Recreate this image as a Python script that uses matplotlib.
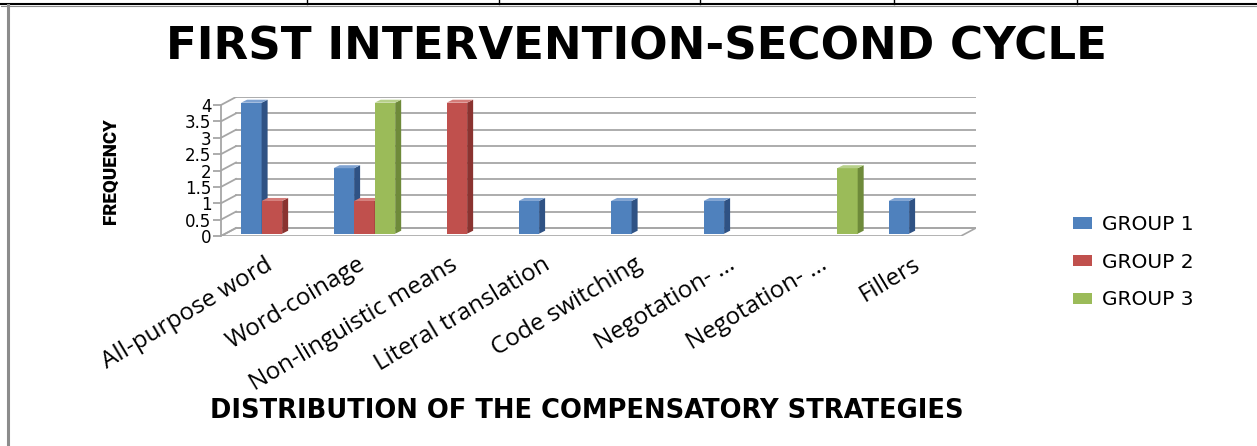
import numpy as np
import matplotlib
matplotlib.use("Agg")
import matplotlib.pyplot as plt
from matplotlib.lines import Line2D

# データ
categories = ["All-purpose word", "Word-coinage", "Non-linguistic means",
              "Literal translation", "Code switching", "Negotation- \u2026",
              "Negotation- \u2026", "Fillers"]
group1 = [4, 2, 0, 1, 1, 1, 0, 1]
group2 = [1, 1, 4, 0, 0, 0, 0, 0]
group3 = [0, 4, 0, 0, 0, 0, 2, 0]
series_names = ["GROUP 1", "GROUP 2", "GROUP 3"]
yticks = [0, 0.5, 1, 1.5, 2, 2.5, 3, 3.5, 4]
ytick_labels = ["0", "0.5", "1", "1.5", "2", "2.5", "3", "3.5", "4"]

# 色 (front, side, top)
front = ["#4F81BD", "#C0504D", "#9BBB59"]
side = ["#2F5284", "#8A3330", "#6E8A3A"]
top = ["#7FA3D2", "#D47C79", "#B7D08A"]

# 配置 (pixel)
W, H = 1257, 446
X0PX, X1PX = 221, 961
Y0PX, Y4PX = 236, 105
DX, DY = 15, 8

ppx = (X1PX - X0PX) / len(categories)
ppy = (Y0PX - Y4PX) / 4
dxd, dyd = DX / ppx, DY / ppy

fig = plt.figure(figsize=(W / 100, H / 100), dpi=100)
ax = fig.add_axes([X0PX / W, (H - Y0PX) / H,
                   (X1PX + DX - X0PX) / W, (Y0PX - Y4PX + DY) / H])
ax.set_xlim(-0.5, len(categories) - 0.5 + dxd)
ax.set_ylim(0, 4 + dyd)
ax.patch.set_alpha(0)

xa, xb = -0.5, len(categories) - 0.5
grid_c = "#a6a6a6"

# 床
ax.fill([xa, xb, xb + dxd, xa + dxd], [0, 0, dyd, dyd], facecolor="white",
        edgecolor=grid_c, lw=1.2, zorder=1)
# グリッド線 (奥の壁と左の壁)
for v in yticks:
    ax.plot([xa + dxd, xb + dxd], [v + dyd, v + dyd], color=grid_c, lw=1.3, zorder=1)
    ax.plot([xa, xa + dxd], [v, v + dyd], color=grid_c, lw=1.3, zorder=1)

# 棒グラフ (3D風)
bw = 0.222
bdx, bdy = 6 / ppx, 3 / ppy
shift, base = 0.05, 0.07
x = np.arange(len(categories))
handles = []
for i, vals in enumerate([group1, group2, group3]):
    left = x + shift + (i - 1.5) * bw
    h = np.array(vals, dtype=float)
    bars = ax.bar(left, np.where(h > 0, h, 0), bw, bottom=base, align="edge",
                  color=front[i], zorder=2 + i, label=series_names[i])
    handles.append(bars)
    for l, v in zip(left, h):
        if v <= 0:
            continue
        r, t = l + bw, base + v
        ax.fill([r, r + bdx, r + bdx, r], [base, base + bdy, t + bdy, t],
                color=side[i], zorder=2 + i, lw=0)
        ax.fill([l, r, r + bdx, l + bdx], [t, t, t + bdy, t + bdy],
                color=top[i], zorder=2 + i, lw=0)

for s in ["top", "right", "bottom"]:
    ax.spines[s].set_visible(False)
ax.spines["left"].set_bounds(0, 4)
ax.spines["left"].set_color(grid_c)
ax.spines["left"].set_linewidth(1.3)
ax.set_yticks(yticks, ytick_labels, fontsize=12, family="DejaVu Sans")
ax.tick_params(axis="y", length=6, width=1.3, color=grid_c, pad=1)
ax.set_xticks(x - 0.03, categories, rotation=31, ha="right",
              rotation_mode="anchor", fontsize=17.5, family=["Open Sans", "DejaVu Sans"])
ax.tick_params(axis="x", length=0, pad=12)

# タイトル・軸ラベル
fig.text(636 / W, 1 - 47.5 / H, "FIRST INTERVENTION-SECOND CYCLE", ha="center",
         va="center", fontsize=32.5, fontweight="bold", family="DejaVu Sans")
fig.text(111 / W, 1 - 171 / H, "FREQUENCY", rotation=90, ha="center", va="center",
         fontsize=13.5, fontweight=900, family=["Roboto", "DejaVu Sans"])
fig.text(587 / W, 1 - 411 / H, "DISTRIBUTION OF THE COMPENSATORY STRATEGIES",
         ha="center", va="center", fontsize=18.5, fontweight="bold", family="DejaVu Sans")

# 凡例
fig.legend(handles=handles, labels=series_names, loc="upper left",
           bbox_to_anchor=(1073 / W, 1 - 215 / H), frameon=False,
           prop={"family": "DejaVu Sans", "size": 14.5}, borderpad=0,
           borderaxespad=0, handlelength=0.95, handleheight=0.5,
           handletextpad=0.5, labelspacing=0.93)

# 枠線
fig.add_artist(Line2D([0, 1], [1 - 3.5 / H] * 2, color="black", lw=1.5))
fig.add_artist(Line2D([0.5 / W, 1], [1 - 5.5 / H] * 2, color="#8c8c8c", lw=0.8))
fig.add_artist(Line2D([7.5 / W] * 2, [0, 1 - 5 / H], color="#8c8c8c", lw=2.2))
for xv in [307, 499, 700, 894, 1077]:
    fig.add_artist(Line2D([xv / W] * 2, [1 - 3.5 / H, 1], color="black", lw=1))

fig.savefig("out.png", dpi=100)
